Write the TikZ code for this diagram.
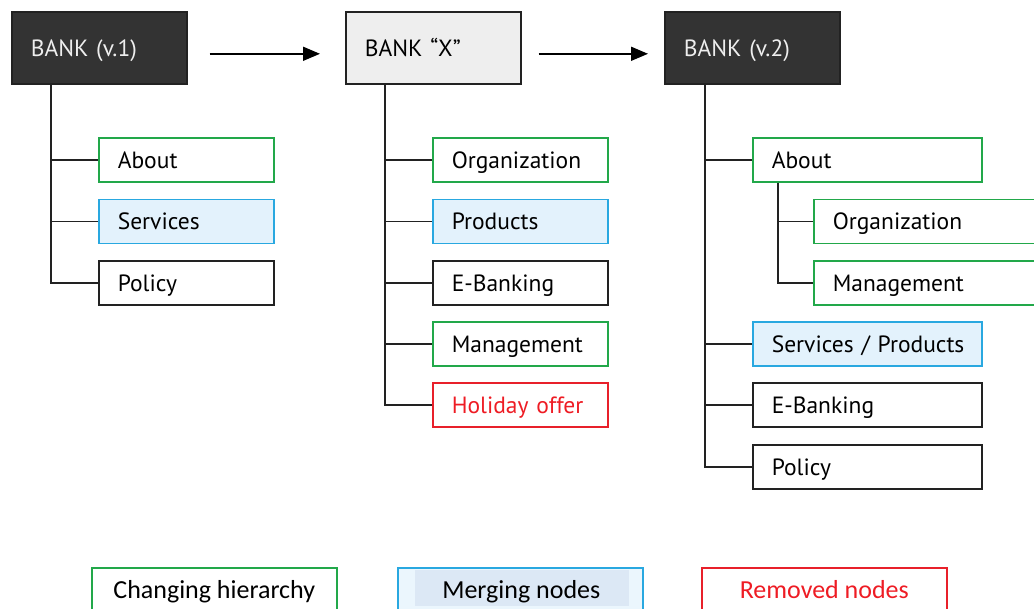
\documentclass[tikz,border=0pt]{standalone}
\usepackage{fontspec}
\setmainfont{PT Sans}[WordSpace=0.7]
\newfontfamily\legendfont{Carlito}
\usetikzlibrary{arrows.meta}
\definecolor{darkfill}{HTML}{333333}
\definecolor{darkline}{HTML}{222222}
\definecolor{grayfill}{HTML}{EEEEEE}
\definecolor{hgreen}{HTML}{22A84A}
\definecolor{hblue}{HTML}{29A8E0}
\definecolor{bluefill}{HTML}{E3F2FC}
\definecolor{legblue}{HTML}{DCE8F5}
\definecolor{hred}{HTML}{E8202A}
\definecolor{redtext}{HTML}{EE1C24}
\begin{document}
\begin{tikzpicture}[x=1pt,y=-1pt,
  box/.style={draw=darkline, line width=1.6pt, anchor=west, minimum height=44pt,
    inner xsep=19pt, text width=137pt, align=left,
    execute at begin node={\hbox\bgroup}, execute at end node={\egroup},
    text height=17pt, text depth=0.5pt, font=\fontsize{23.5}{28}\selectfont},
  widebox/.style={box, text width=191pt},
  xwidebox/.style={box, text width=192pt},
  root/.style={box, anchor=north west, minimum height=72pt},
  darkroot/.style={root, fill=darkfill, text=grayfill},
  grayroot/.style={root, fill=grayfill},
  greenbox/.style={draw=hgreen},
  bluebox/.style={draw=hblue, fill=bluefill},
  redbox/.style={draw=hred, text=redtext},
  conn/.style={line width=1.6pt, draw=darkline},
  flow/.style={line width=1.6pt, -{Triangle[length=17pt,width=14pt]}},
  legend/.style={draw, line width=1.6pt, anchor=north west, minimum width=245pt,
    minimum height=44pt, text height=17pt, text depth=0.5pt,
    font=\legendfont\fontsize{26}{30}\selectfont}
]
\useasboundingbox (0,0) rectangle (1034,609);

% roots
\node[darkroot] (v1) at (11,11) {BANK (v.1)};
\node[grayroot] (bx) at (345,11) {BANK “X”};
\node[darkroot] (v2) at (664,11) {BANK (v.2)};

\draw[flow] ([xshift=22pt,yshift=-6pt]v1.east) -- ([xshift=-25pt,yshift=-6pt]bx.west);
\draw[flow] ([xshift=17pt,yshift=-6pt]bx.east) -- ([xshift=-16pt,yshift=-6pt]v2.west);

% column 1
\node[box, greenbox] (a1) at (98,160) {About};
\node[box, bluebox] (s1) at (98,221.5) {Services};
\node[box] (p1) at (98,283) {Policy};
\foreach \c in {a1,s1,p1}
  \draw[conn] ([xshift=40pt]v1.south west) |- (\c.west);

% column 2
\node[box, greenbox] (o2) at (432,160) {Organization};
\node[box, bluebox] (pr2) at (432,221.5) {Products};
\node[box] (e2) at (432,283) {E-Banking};
\node[box, greenbox] (m2) at (432,344) {Management};
\node[box, redbox] (h2) at (432,405) {Holiday offer};
\foreach \c in {o2,pr2,e2,m2,h2}
  \draw[conn] ([xshift=40pt]bx.south west) |- (\c.west);

% column 3
\node[widebox, greenbox] (a3) at (752,160) {About};
\node[xwidebox, greenbox] (o3) at (813,221.5) {Organization};
\node[xwidebox, greenbox] (m3) at (813,283) {Management};
\node[widebox, bluebox] (s3) at (752,344) {Services / Products};
\node[widebox] (e3) at (752,405) {E-Banking};
\node[widebox] (p3) at (752,467) {Policy};
\foreach \c in {a3,s3,e3,p3}
  \draw[conn] ([xshift=41pt]v2.south west) |- (\c.west);
\foreach \c in {o3,m3}
  \draw[conn] ([xshift=26pt]a3.south west) |- (\c.west);

% legend
\node[legend, draw=hgreen] (lg) at (91,567) {Changing hierarchy};
\node[legend, draw=hblue, fill=bluefill!70!white] (lb) at (397,567) {};
\fill[legblue] ([xshift=18pt,yshift=-3pt]lb.north west) rectangle ([xshift=-15pt,yshift=-39pt]lb.north east);
\node[legend, draw=none, minimum width=211pt] (lbt) at (415,567) {Merging nodes};
\node[legend, draw=hred, text=redtext] (lr) at (701,567) {Removed nodes};
\end{tikzpicture}
\end{document}
